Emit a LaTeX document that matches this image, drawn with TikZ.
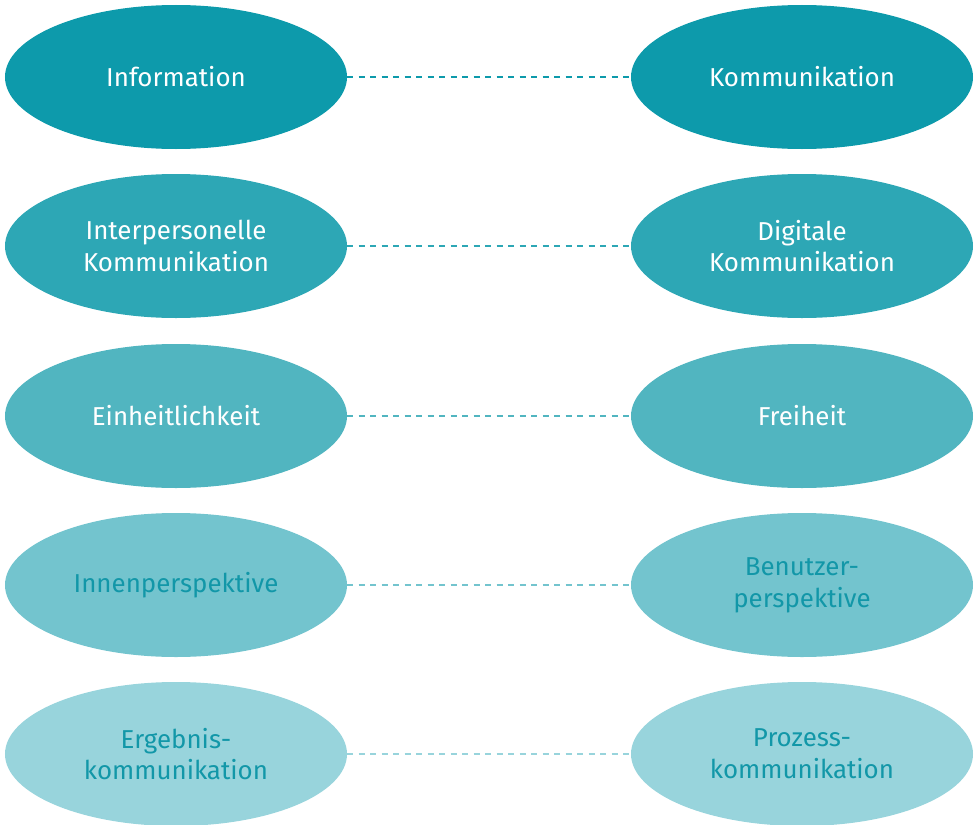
\documentclass[tikz,border=0pt]{standalone}
\usepackage{fontspec}
\setmainfont{Fira Sans}
\usetikzlibrary{shapes.geometric}
\definecolor{rowA}{HTML}{0D9AAB}
\definecolor{rowB}{HTML}{2DA7B5}
\definecolor{rowC}{HTML}{51B5C0}
\definecolor{rowD}{HTML}{73C4CE}
\definecolor{rowE}{HTML}{98D4DC}
\definecolor{inkdark}{HTML}{1297A8}
\begin{document}
\begin{tikzpicture}[x=1bp,y=-1bp,
	oval/.style={ellipse, minimum width=342bp, minimum height=144bp, inner sep=0pt, align=center, font=\fontsize{26}{32}\selectfont, text=white},
	link/.style={dash pattern=on 6bp off 5.5bp, line width=1.5bp}]
	\useasboundingbox (0,0) rectangle (980,825);
	\node (I)  at (176,  77)	[oval, fill = rowA]	{Information};
	\node (K)  at (802,  77)	[oval, fill = rowA]	{Kommunikation};
	\node (IK) at (176, 246)	[oval, fill = rowB]	{Interpersonelle\\Kommunikation};
	\node (DK) at (802, 246)	[oval, fill = rowB]	{Digitale\\Kommunikation};
	\node (E)  at (176, 416)	[oval, fill = rowC]	{Einheitlichkeit};
	\node (F)  at (802, 416)	[oval, fill = rowC]	{Freiheit};
	\node (IP) at (176, 585)	[oval, fill = rowD, text = inkdark]	{Innenperspektive};
	\node (BP) at (802, 585)	[oval, fill = rowD, text = inkdark]	{Benutzer-\\perspektive};
	\node (EK) at (176, 754)	[oval, fill = rowE, text = inkdark]	{Ergebnis-\\kommunikation};
	\node (PK) at (802, 754)	[oval, fill = rowE, text = inkdark]	{Prozess-\\kommunikation};
	\draw[link, rowA] (I)  -- (K);
	\draw[link, rowB] (IK) -- (DK);
	\draw[link, rowC] (E)  -- (F);
	\draw[link, rowD] (IP) -- (BP);
	\draw[link, rowE] (EK) -- (PK);
\end{tikzpicture}
\end{document}
